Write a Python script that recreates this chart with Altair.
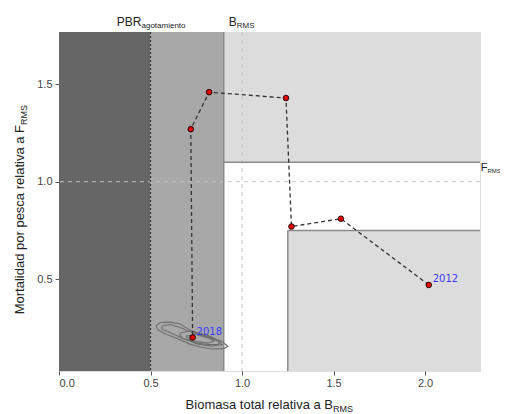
import altair as alt
import pandas as pd

# ---- data ----
years = [2012, 2013, 2014, 2015, 2016, 2017, 2018]
b_rel = [2.02, 1.54, 1.27, 1.24, 0.82, 0.72, 0.73]
f_rel = [0.47, 0.81, 0.77, 1.43, 1.46, 1.27, 0.20]
label_years = [2012, 2018]

# background zones
zone_x1 = [0.0, 0.5, 0.9, 1.25]
zone_x2 = [0.5, 0.9, 2.3, 2.3]
zone_y1 = [0.028, 0.028, 1.1, 0.028]
zone_y2 = [1.769, 1.769, 1.769, 0.75]
zone_name = ["dark", "mid", "light_top", "light_bottom"]

# uncertainty contours around the last year
c1_x = [0.530, 0.552, 0.606, 0.661, 0.716, 0.770, 0.836, 0.891, 0.923, 0.901, 0.836, 0.770, 0.716, 0.650, 0.584, 0.541, 0.530]
c1_y = [0.259, 0.277, 0.279, 0.269, 0.238, 0.218, 0.197, 0.179, 0.154, 0.143, 0.141, 0.151, 0.166, 0.192, 0.218, 0.238, 0.259]
c2_x = [0.563, 0.606, 0.661, 0.727, 0.798, 0.869, 0.891, 0.836, 0.759, 0.683, 0.606, 0.563, 0.563]
c2_y = [0.259, 0.267, 0.251, 0.226, 0.207, 0.182, 0.164, 0.156, 0.166, 0.192, 0.226, 0.243, 0.259]
c3_x = [0.661, 0.716, 0.770, 0.836, 0.880, 0.869, 0.803, 0.738, 0.672, 0.661, 0.661]
c3_y = [0.223, 0.233, 0.223, 0.202, 0.179, 0.164, 0.164, 0.176, 0.197, 0.213, 0.223]
c4_x = [0.694, 0.748, 0.814, 0.847, 0.814, 0.748, 0.705, 0.694]
c4_y = [0.207, 0.215, 0.197, 0.182, 0.171, 0.179, 0.192, 0.207]

x_ticks = [0.0, 0.5, 1.0, 1.5, 2.0]
y_ticks = [0.5, 1.0, 1.5]
x_domain = [0.0, 2.3]
y_domain = [0.028, 1.769]

pbr = 0.5
b_lim = 0.9
b_rms = 1.0
f_rms = 1.0
f_lim = 1.1
b_high = 1.25
f_low = 0.75

FONT = "Liberation Sans"
W, H = 421, 339

# ---- tables ----
traj = pd.DataFrame({"year": years, "b": b_rel, "f": f_rel})
labs = traj[traj["year"].isin(label_years)].copy()
labs["lab"] = labs["year"].astype(str)
zones = pd.DataFrame({"x1": zone_x1, "x2": zone_x2, "y1": zone_y1, "y2": zone_y2, "z": zone_name})
rows = []
for cid, (cx, cy) in enumerate([(c1_x, c1_y), (c2_x, c2_y), (c3_x, c3_y), (c4_x, c4_y)]):
    for i, (a, b) in enumerate(zip(cx, cy)):
        rows.append({"cid": cid, "i": i, "x": a, "y": b})
cont = pd.DataFrame(rows)

xs = alt.Scale(domain=x_domain, nice=False, zero=False)
ys = alt.Scale(domain=y_domain, nice=False, zero=False)

xax = alt.Axis(values=x_ticks, format=".1f", title=None, domain=False, grid=False,
               tickSize=4, tickColor="#555", labelColor="#444", labelFontSize=11,
               labelFont=FONT, labelPadding=2)
yax = alt.Axis(values=y_ticks, format=".1f", title=None, domain=False, grid=False,
               tickSize=4, tickColor="#555", labelColor="#444", labelFontSize=11,
               labelFont=FONT, labelPadding=3)

base = alt.Chart(zones).mark_rect(strokeWidth=0).encode(
    x=alt.X("x1:Q", scale=xs, axis=xax),
    x2="x2:Q",
    y=alt.Y("y1:Q", scale=ys, axis=yax),
    y2="y2:Q",
    color=alt.Color("z:N", scale=alt.Scale(domain=zone_name,
                    range=["#666666", "#a8a8a8", "#dcdcdc", "#dcdcdc"]), legend=None),
)

def vrule(val, color, width, dash=None):
    kw = dict(color=color, strokeWidth=width)
    if dash:
        kw["strokeDash"] = dash
    return alt.Chart(pd.DataFrame({"v": [val]})).mark_rule(**kw).encode(x=alt.X("v:Q", scale=xs))

def hrule(val, color, width, dash=None):
    kw = dict(color=color, strokeWidth=width)
    if dash:
        kw["strokeDash"] = dash
    return alt.Chart(pd.DataFrame({"v": [val]})).mark_rule(**kw).encode(y=alt.Y("v:Q", scale=ys))

ref_lines = [
    vrule(b_rms, "#c4c4c4", 1, [4, 4]),
    hrule(f_rms, "#c4c4c4", 1, [4, 4]),
    vrule(pbr, "#333333", 1.2, [2, 2]),
    vrule(b_lim, "#8a8a8a", 1.5),
]
seg = pd.DataFrame({"x1": [b_lim, b_high, b_high], "x2": [x_domain[1], x_domain[1], b_high],
                    "y1": [f_lim, f_low, y_domain[0]], "y2": [f_lim, f_low, f_low]})
segs = alt.Chart(seg).mark_rule(color="#8a8a8a", strokeWidth=1.5).encode(
    x=alt.X("x1:Q", scale=xs), x2="x2:Q", y=alt.Y("y1:Q", scale=ys), y2="y2:Q")

contours = alt.Chart(cont).mark_line(color="#707070", strokeWidth=1.1).encode(
    x=alt.X("x:Q", scale=xs), y=alt.Y("y:Q", scale=ys), detail="cid:N", order="i:Q")

path = alt.Chart(traj).mark_line(color="#333333", strokeWidth=1.3, strokeDash=[4, 3]).encode(
    x=alt.X("b:Q", scale=xs), y=alt.Y("f:Q", scale=ys), order="year:Q")
pts = alt.Chart(traj).mark_point(filled=True, fill="#e00000", stroke="#000000",
                                 strokeWidth=0.8, opacity=1, size=32).encode(
    x=alt.X("b:Q", scale=xs), y=alt.Y("f:Q", scale=ys))
ytxt = alt.Chart(labs).mark_text(align="left", baseline="alphabetic", dx=4, dy=-3,
                                 color="#3a3aff", fontSize=10, font="DejaVu Sans").encode(
    x=alt.X("b:Q", scale=xs), y=alt.Y("f:Q", scale=ys), text="lab:N")

def txt(s, x, y, size, align, angle=0):
    kw = dict(align=align, baseline="alphabetic", fontSize=size, font=FONT, color="#222222")
    if angle:
        kw["angle"] = angle
    return alt.Chart(pd.DataFrame({"t": [s]})).mark_text(**kw).encode(
        x=alt.value(x), y=alt.value(y), text="t:N")

titles = [
    txt("Biomasa total relativa a B", 274, 377, 13, "right"),
    txt("RMS", 274, 380, 9, "left"),
    txt("Mortalidad por pesca relativa a F", -35, 93, 13, "right", 270),
    txt("RMS", -32, 93, 9, "left", 270),
    txt("PBR", 82.5, -6.5, 12, "right"),
    txt("agotamiento", 82.5, -4, 8, "left"),
    txt("B", 177.7, -6.5, 12, "right"),
    txt("RMS", 177.7, -4, 8, "left"),
    txt("F", 428.5, 138.5, 11, "right"),
    txt("RMS", 428.5, 141, 6, "left"),
]

chart = alt.layer(base, *ref_lines, segs, contours, path, pts, ytxt, *titles).properties(
    width=W, height=H,
    autosize=alt.AutoSizeParams(type="none"),
    padding={"left": 51, "top": 24, "right": 20, "bottom": 44},
).configure_view(stroke="#8a8a8a", strokeWidth=1.5).configure(background="white")

chart.save("out.html", embed_options={"renderer": "svg", "actions": False})
